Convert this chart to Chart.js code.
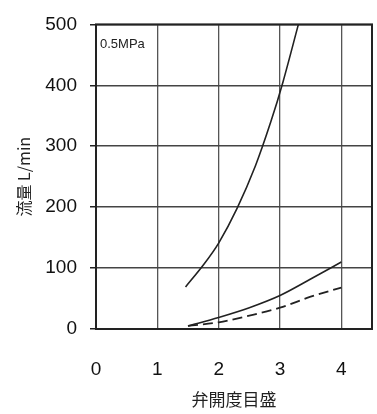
<!DOCTYPE html>
<html>
<head>
<meta charset="utf-8">
<script src="https://cdn.jsdelivr.net/npm/chart.js@4"></script>
<style>
  html, body { margin: 0; padding: 0; background: #fff; }
  #wrap { width: 377px; height: 414px; }
</style>
</head>
<body>
<div id="wrap"><canvas id="flowChart" width="377" height="414"></canvas></div>
<script>
// 弁開度目盛 vs 流量 (0.5MPa)
const highX = [1.46, 1.75, 2, 2.3, 2.6, 2.85, 3.05, 3.3];
const highY = [69, 105, 141, 198, 268, 340, 406, 500];
const midX = [1.5, 2, 2.5, 3, 3.5, 4];
const midY = [5, 19, 35, 55, 82, 110];
const lowX = [1.5, 2, 2.5, 3, 3.5, 4];
const lowY = [5, 11, 22, 35, 53, 68];
const xTicks = [0, 1, 2, 3, 4];
const yTicks = [0, 100, 200, 300, 400, 500];

function pts(xs, ys) {
    return xs.map((x, i) => ({ x: x, y: ys[i] }));
}

const frame = {
    id: 'frame',
    afterDraw(chart) {
        const a = chart.chartArea;
        const c = chart.ctx;
        c.save();
        c.strokeStyle = '#222';
        c.lineWidth = 2;
        c.strokeRect(a.left, a.top, a.right - a.left, a.bottom - a.top);
        c.fillStyle = '#222';
        c.font = '13px "Liberation Sans", Arial, sans-serif';
        c.textBaseline = 'middle';
        c.fillText('0.5MPa', a.left + 4, a.top + 20);
        c.restore();
    }
};

const tickFont = { size: 19, family: '"Liberation Sans", Arial, sans-serif' };

const ctx = document.getElementById('flowChart').getContext('2d');

new Chart(ctx, {
    type: 'scatter',
    data: {
        datasets: [
            { data: pts(highX, highY), borderColor: '#222', borderWidth: 1.6, showLine: true, tension: 0.3, pointRadius: 0 },
            { data: pts(midX, midY), borderColor: '#222', borderWidth: 1.6, showLine: true, cubicInterpolationMode: 'monotone', pointRadius: 0 },
            { data: pts(lowX, lowY), borderColor: '#222', borderWidth: 1.8, borderDash: [10, 5], showLine: true, cubicInterpolationMode: 'monotone', pointRadius: 0 }
        ]
    },
    options: {
        responsive: false,
        animation: false,
        layout: { padding: { left: 0, top: 20, right: 5, bottom: 0 } },
        plugins: { legend: { display: false }, tooltip: { enabled: false } },
        scales: {
            x: {
                type: 'linear',
                min: 0,
                max: 4.5,
                afterBuildTicks: s => { s.ticks = xTicks.map(v => ({ value: v })); },
                afterFit: s => { s.height = 85; },
                ticks: { color: '#111', padding: 29, font: tickFont },
                grid: { color: '#555', lineWidth: 1.3, drawTicks: false },
                border: { display: false },
                title: {
                    display: true,
                    text: '弁開度目盛',
                    color: '#222',
                    padding: { top: 10, bottom: 4 },
                    font: { size: 17, family: '"Noto Sans CJK JP", sans-serif' }
                }
            },
            y: {
                min: 0,
                max: 500,
                afterBuildTicks: s => { s.ticks = yTicks.map(v => ({ value: v })); },
                afterFit: s => { s.width = 96; },
                ticks: { color: '#111', padding: 13, font: tickFont },
                grid: { color: '#444', lineWidth: 1.5, tickLength: 6, tickColor: '#222' },
                border: { display: false },
                title: {
                    display: true,
                    text: '流量 L/min',
                    color: '#222',
                    padding: { top: 14, bottom: 0 },
                    font: { size: 16, family: '"Noto Sans CJK JP", sans-serif' }
                }
            }
        }
    },
    plugins: [frame]
});
</script>
</body>
</html>
